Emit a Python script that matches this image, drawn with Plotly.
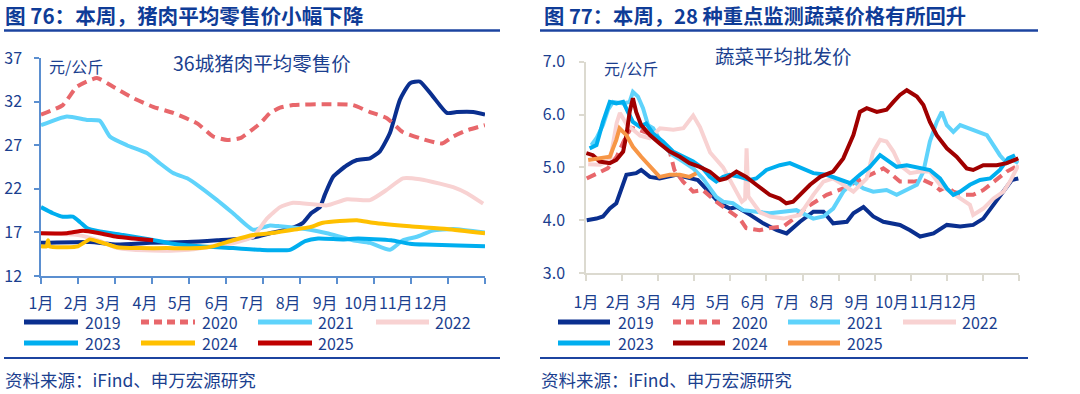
import plotly.graph_objects as go

# ---------------- data (x = month position, 0..12) ----------------
month_labels = ["1月", "2月", "3月", "4月", "5月", "6月", "7月", "8月", "9月", "10月", "11月", "12月"]
left_label_pos = [0.0, 0.95, 1.81, 2.81, 3.76, 4.76, 5.70, 6.68, 7.68, 8.65, 9.59, 10.54]
right_label_pos = [0.0, 0.89, 1.75, 2.72, 3.66, 4.63, 5.57, 6.54, 7.51, 8.48, 9.45, 10.37]
month_bounds = list(range(13))
years = ["2019", "2020", "2021", "2022", "2023", "2024", "2025"]

pork_yticks = [12, 17, 22, 27, 32, 37]
veg_yticks = [3.0, 4.0, 5.0, 6.0, 7.0]

pork_2019_m = [0, 1.32, 2.05, 2.95, 3.95, 4.76, 5.73, 6.19, 6.7, 7.08, 7.30, 7.54, 7.67, 7.9, 8.27, 8.54, 8.89, 9.16, 9.43, 9.70, 9.97, 10.24, 10.59, 10.97, 11.24, 11.68, 12]
pork_2019_v = [15.8, 15.9, 15.6, 15.8, 15.9, 16.1, 16.4, 16.9, 17.4, 18.1, 19.2, 19.9, 21.3, 23.4, 24.7, 25.3, 25.5, 26.3, 28.4, 32.2, 34.1, 34.3, 32.6, 30.7, 30.8, 30.8, 30.5]
pork_2020_m = [0, 0.59, 0.97, 1.51, 1.95, 2.49, 3.03, 3.57, 4.22, 4.65, 5.03, 5.38, 5.92, 6.19, 6.46, 6.81, 7.73, 8.43, 8.89, 9.35, 9.78, 10.24, 10.84, 11.14, 11.51, 12]
pork_2020_v = [30.5, 31.6, 33.7, 34.7, 33.7, 32.4, 31.4, 30.7, 29.5, 28.0, 27.6, 27.8, 29.5, 30.7, 31.3, 31.6, 31.7, 31.6, 30.8, 30.1, 28.5, 27.8, 27.2, 28.0, 28.7, 29.3]
pork_2021_m = [0, 0.70, 1.24, 1.59, 1.86, 2.32, 2.86, 3.22, 3.57, 3.95, 4.30, 4.76, 5.19, 5.73, 6.19, 6.46, 7.27, 7.73, 8.43, 8.89, 9.43, 9.78, 10.16, 10.59, 11.14, 12]
pork_2021_v = [29.3, 30.3, 29.9, 29.8, 28.0, 27.0, 26.1, 24.9, 23.8, 23.2, 22.2, 20.7, 19.2, 17.3, 17.8, 17.7, 17.3, 16.9, 16.1, 15.8, 15.0, 16.1, 16.5, 17.2, 17.4, 17.0]
pork_2022_m = [0, 1.0, 1.6, 2.0, 2.5, 3.5, 4.0, 4.5, 5.0, 5.4, 5.73, 6.11, 6.46, 6.81, 7.73, 8.27, 8.89, 9.35, 9.78, 10.24, 10.78, 11.14, 11.51, 11.95]
pork_2022_v = [16.9, 16.7, 16.0, 15.3, 15.0, 14.9, 15.0, 15.3, 15.6, 16.0, 16.5, 18.6, 19.9, 20.4, 20.1, 20.8, 20.7, 21.9, 23.2, 23.1, 22.6, 22.2, 21.5, 20.3]
pork_2023_m = [0, 0.32, 0.59, 0.86, 1.05, 1.24, 1.59, 2.22, 2.95, 3.57, 4.30, 5.19, 5.92, 6.73, 7.14, 7.49, 8.16, 8.57, 9.46, 9.97, 10.38, 11.27, 12]
pork_2023_v = [19.9, 19.2, 18.8, 18.8, 18.2, 17.5, 17.1, 16.7, 16.2, 15.7, 15.4, 15.2, 15.0, 15.0, 16.0, 16.3, 16.2, 16.3, 16.1, 15.7, 15.6, 15.5, 15.4]
pork_2024_m = [0, 0.15, 0.19, 0.23, 0.70, 1.0, 1.32, 1.59, 2.05, 2.68, 3.41, 4.30, 4.65, 5.19, 5.73, 6.19, 6.81, 7.27, 7.62, 8.54, 8.97, 9.97, 10.97, 12]
pork_2024_v = [15.4, 15.4, 16.1, 15.4, 15.3, 15.4, 16.2, 15.9, 15.3, 15.2, 15.2, 15.2, 15.4, 16.1, 16.7, 16.9, 17.3, 17.6, 18.1, 18.4, 18.1, 17.7, 17.4, 16.9]
pork_2025_m = [0, 0.70, 1.14, 1.59, 2.05, 2.49, 3.03]
pork_2025_v = [16.9, 16.9, 17.2, 16.9, 16.5, 16.3, 16.1]

veg_2019_m = [0.02, 0.29, 0.47, 0.66, 0.84, 0.93, 1.07, 1.12, 1.39, 1.53, 1.77, 2.04, 2.50, 2.97, 3.10, 3.44, 3.71, 3.99, 4.18, 4.55, 4.91, 5.29, 5.56, 5.93, 6.30, 6.58, 6.85, 7.23, 7.41, 7.69, 7.96, 8.24, 8.70, 8.98, 9.26, 9.63, 10.0, 10.37, 10.73, 11.01, 11.29, 11.57, 11.80, 11.98]
veg_2019_v = [4.00, 4.03, 4.07, 4.22, 4.32, 4.48, 4.73, 4.86, 4.89, 4.95, 4.82, 4.79, 4.86, 4.79, 4.76, 4.51, 4.32, 4.22, 4.25, 4.10, 3.94, 3.81, 3.75, 3.97, 4.16, 4.16, 3.94, 3.97, 4.13, 4.25, 4.07, 3.97, 3.91, 3.81, 3.69, 3.75, 3.91, 3.88, 3.91, 4.03, 4.29, 4.54, 4.76, 4.79]
veg_2020_m = [0.02, 0.38, 0.60, 0.85, 1.05, 1.25, 1.5, 1.9, 2.32, 2.45, 2.69, 2.97, 3.24, 3.61, 3.98, 4.26, 4.44, 4.81, 5.09, 5.47, 5.80, 6.12, 6.67, 7.13, 7.50, 7.87, 8.24, 8.43, 8.70, 9.07, 9.35, 9.63, 9.81, 10.0, 10.18, 10.46, 10.73, 11.01, 11.29, 11.66, 11.98]
veg_2020_v = [4.79, 4.92, 4.98, 5.2, 5.5, 5.75, 5.7, 5.6, 5.3, 4.95, 4.73, 4.54, 4.57, 4.35, 4.16, 4.03, 3.85, 3.81, 3.85, 3.88, 4.05, 4.25, 4.48, 4.60, 4.73, 4.86, 4.98, 4.89, 4.73, 4.73, 4.76, 4.67, 4.57, 4.63, 4.54, 4.48, 4.48, 4.57, 4.73, 4.92, 5.04]
veg_2021_m = [0.15, 0.29, 0.47, 0.61, 0.75, 1.03, 1.21, 1.30, 1.44, 1.58, 1.72, 1.86, 2.13, 2.41, 2.69, 2.97, 3.24, 3.43, 3.61, 3.80, 4.07, 4.35, 4.72, 5.09, 5.46, 5.83, 6.30, 6.58, 6.85, 7.13, 7.41, 7.69, 7.96, 8.33, 8.61, 8.89, 9.17, 9.35, 9.53, 9.72, 9.86, 10.0, 10.18, 10.37, 10.73, 11.11, 11.29, 11.47, 11.66, 11.84, 11.98]
veg_2021_v = [5.42, 5.55, 5.80, 6.09, 6.24, 6.21, 6.24, 6.43, 6.34, 6.12, 5.80, 5.74, 5.42, 5.23, 5.11, 4.98, 4.79, 4.60, 4.44, 4.35, 4.32, 4.19, 4.16, 4.13, 4.16, 4.19, 4.03, 4.07, 4.22, 4.54, 4.73, 4.60, 4.54, 4.57, 4.48, 4.57, 4.67, 4.92, 5.49, 5.86, 6.05, 5.80, 5.67, 5.80, 5.71, 5.61, 5.42, 5.23, 5.08, 5.14, 5.08]
veg_2022_m = [0.06, 0.39, 0.67, 0.85, 0.94, 1.12, 1.5, 1.77, 2.05, 2.42, 2.70, 2.97, 3.16, 3.44, 3.80, 4.08, 4.32, 4.41, 4.45, 4.50, 4.82, 5.10, 5.47, 5.93, 6.30, 6.58, 6.85, 7.13, 7.41, 7.78, 7.96, 8.15, 8.33, 8.52, 8.70, 8.98, 9.26, 9.53, 9.81, 10.09, 10.37, 10.64, 10.73, 11.01, 11.29, 11.57, 11.75, 11.98]
veg_2022_v = [5.06, 5.05, 5.14, 5.84, 6.03, 5.82, 5.6, 5.55, 5.74, 5.71, 5.74, 5.98, 5.76, 5.28, 5.0, 4.65, 4.35, 4.4, 5.36, 4.45, 4.15, 4.07, 4.03, 4.10, 4.48, 4.73, 4.79, 4.67, 4.54, 4.79, 5.30, 5.52, 5.49, 5.30, 5.04, 4.89, 4.92, 4.92, 4.67, 4.54, 4.41, 4.29, 4.10, 4.22, 4.41, 4.54, 4.73, 5.04]
veg_2023_m = [0.10, 0.29, 0.47, 0.66, 0.84, 1.03, 1.16, 1.30, 1.49, 1.67, 1.86, 2.13, 2.41, 2.69, 2.97, 3.24, 3.43, 3.61, 3.80, 3.98, 4.26, 4.54, 4.72, 5.00, 5.37, 5.65, 5.93, 6.30, 6.67, 6.95, 7.32, 7.59, 7.87, 8.15, 8.33, 8.61, 8.89, 9.26, 9.53, 9.81, 10.0, 10.18, 10.37, 10.64, 10.92, 11.20, 11.47, 11.70, 11.89]
veg_2023_v = [5.36, 5.42, 5.86, 6.24, 6.21, 6.24, 6.05, 5.86, 5.77, 5.83, 5.64, 5.49, 5.30, 5.20, 5.11, 4.98, 4.82, 4.73, 4.82, 4.86, 4.82, 4.76, 4.79, 4.95, 5.04, 5.08, 5.0, 4.89, 4.86, 4.79, 4.70, 4.86, 5.01, 5.23, 5.14, 5.01, 5.04, 4.98, 4.95, 4.79, 4.60, 4.48, 4.54, 4.67, 4.76, 4.79, 4.95, 5.17, 5.23]
veg_2024_m = [0.01, 0.19, 0.38, 0.66, 0.84, 1.03, 1.12, 1.21, 1.30, 1.39, 1.53, 1.77, 2.04, 2.32, 2.60, 2.87, 3.15, 3.43, 3.71, 3.89, 4.17, 4.44, 4.72, 5.09, 5.37, 5.55, 5.74, 5.93, 6.21, 6.49, 6.85, 7.13, 7.41, 7.59, 7.78, 8.06, 8.33, 8.52, 8.70, 8.89, 9.17, 9.35, 9.53, 9.72, 10.0, 10.27, 10.55, 10.73, 11.01, 11.38, 11.66, 11.98]
veg_2024_v = [5.27, 5.23, 5.11, 5.08, 5.14, 5.30, 5.61, 6.05, 6.31, 6.05, 5.80, 5.61, 5.45, 5.30, 5.20, 5.08, 5.01, 4.92, 4.76, 4.79, 4.92, 4.82, 4.67, 4.48, 4.41, 4.32, 4.35, 4.48, 4.67, 4.82, 4.92, 5.17, 5.61, 6.05, 6.12, 6.05, 6.09, 6.24, 6.37, 6.46, 6.34, 6.18, 5.86, 5.61, 5.36, 5.20, 4.98, 4.95, 5.04, 5.04, 5.08, 5.17]
veg_2025_m = [0.06, 0.38, 0.66, 0.84, 0.93, 1.12, 1.30, 1.53, 1.77, 2.04, 2.32, 2.60, 2.87, 3.06]
veg_2025_v = [5.14, 5.17, 5.20, 5.52, 5.74, 5.61, 5.39, 5.20, 5.01, 4.82, 4.86, 4.86, 4.82, 4.89]

pork_series = [(pork_2019_m, pork_2019_v), (pork_2020_m, pork_2020_v), (pork_2021_m, pork_2021_v),
               (pork_2022_m, pork_2022_v), (pork_2023_m, pork_2023_v), (pork_2024_m, pork_2024_v),
               (pork_2025_m, pork_2025_v)]
veg_series = [(veg_2019_m, veg_2019_v), (veg_2020_m, veg_2020_v), (veg_2021_m, veg_2021_v),
              (veg_2022_m, veg_2022_v), (veg_2023_m, veg_2023_v), (veg_2024_m, veg_2024_v),
              (veg_2025_m, veg_2025_v)]

# ---------------- styles ----------------
W, H = 1080, 394
FONT = "Noto Sans CJK SC, Noto Sans, sans-serif"
TEXT = "#1b3f8f"
TITLE = "#0f3c97"
RULE = "#1c44a0"
LEFT_AXIS = "#5b8fd0"
RIGHT_AXIS = "#dcdad0"

pork_colors = ["#0a2f8f", "#e8676b", "#5fd3fb", "#f8d2d2", "#00aeef", "#ffc000", "#c00000"]
veg_colors = ["#0a2f8f", "#e8676b", "#5fd3fb", "#f8d2d2", "#00aeef", "#a00000", "#f79646"]
dashes = ["solid", "10px,6px", "solid", "solid", "solid", "solid", "solid"]


def px(x):
    return x / W


def py(y):
    return 1 - y / H


fig = go.Figure()
for (m, v), c, d, name in zip(pork_series, pork_colors, dashes, years):
    fig.add_trace(go.Scatter(x=m, y=v, mode="lines", name=name, xaxis="x", yaxis="y",
                             line=dict(color=c, width=4, dash=d, shape="spline", smoothing=0.5),
                             showlegend=False, hoverinfo="skip"))
for (m, v), c, d, name in zip(veg_series, veg_colors, dashes, years):
    fig.add_trace(go.Scatter(x=m, y=v, mode="lines", name=name, xaxis="x2", yaxis="y2",
                             line=dict(color=c, width=4, dash=d), showlegend=False, hoverinfo="skip"))


def xaxis(domain, anchor, label_pos, color, standoff_len):
    return dict(domain=domain, anchor=anchor, range=[0, 12], showgrid=False, zeroline=False,
                showline=True, linecolor=color, linewidth=1.5, automargin=False,
                tickmode="array", tickvals=label_pos, ticktext=month_labels, tickangle=0,
                ticks="outside", ticklen=standoff_len, tickcolor="rgba(0,0,0,0)",
                tickfont=dict(family=FONT, size=16, color=TEXT),
                minor=dict(tickvals=month_bounds, ticks="outside", ticklen=6,
                           tickcolor=color, tickwidth=1.5, showgrid=False))


def yaxis(domain, anchor, rng, tickvals, color, fmt, standoff):
    return dict(domain=domain, anchor=anchor, range=rng, showgrid=False, zeroline=False,
                showline=True, linecolor=color, linewidth=1.5, automargin=False,
                tickmode="array", tickvals=tickvals, tickformat=fmt,
                ticks="outside", ticklen=5, tickcolor=color, tickwidth=1.5,
                ticklabelstandoff=standoff,
                tickfont=dict(family=FONT, size=16, color=TEXT))


fig.update_layout(
    width=W, height=H, margin=dict(l=0, r=0, t=0, b=0, pad=0, autoexpand=False),
    paper_bgcolor="white", plot_bgcolor="white", showlegend=False,
    font=dict(family=FONT, color=TEXT),
    xaxis=xaxis([px(41), px(485)], "y", left_label_pos, LEFT_AXIS, 12),
    yaxis=yaxis([py(276), py(58)], "x", [12, 37], pork_yticks, LEFT_AXIS, "d", 9),
    xaxis2=xaxis([px(586), px(1019)], "y2", right_label_pos, RIGHT_AXIS, 14),
    yaxis2=yaxis([py(273), py(61.7)], "x2", [3, 7], veg_yticks, RIGHT_AXIS, ".1f", 11),
)

shapes = []
annotations = []


def text(x, y, s, size, color=TEXT, anchor="left", bold=False):
    annotations.append(dict(x=px(x), y=py(y), xref="paper", yref="paper", text=(f"<b>{s}</b>" if bold else s),
                            showarrow=False, xanchor=anchor, yanchor="middle",
                            font=dict(family=FONT, size=size, color=color)))


def hline(x0, x1, y, color, width, dash="solid"):
    shapes.append(dict(type="line", xref="paper", yref="paper", x0=px(x0), x1=px(x1), y0=py(y), y1=py(y),
                       line=dict(color=color, width=width, dash=dash)))


# titles and rules
text(3, 15, "图 76：本周，猪肉平均零售价小幅下降", 20.6, TITLE, bold=True)
text(542, 15, "图 77：本周，28 种重点监测蔬菜价格有所回升", 20.3, TITLE, bold=True)
hline(4, 500, 30.5, RULE, 2.5)
hline(540, 1038, 30.5, RULE, 2.5)
hline(4, 500, 358, RULE, 2)
hline(540, 1028, 358, RULE, 2)
text(3, 379, "资料来源：iFind、申万宏源研究", 17.5)
text(539, 379, "资料来源：iFind、申万宏源研究", 17.5)

# in-chart labels
text(262, 62, "36城猪肉平均零售价", 19.5, anchor="center")
text(76, 66, "元/公斤", 16, anchor="center")
text(783, 56, "蔬菜平均批发价", 19.5, anchor="center")
text(631, 68, "元/公斤", 16, anchor="center")

# manual legends
left_cols = [(24, 78, 83), (141, 195, 200), (258, 312, 316), (376, 429, 433)]
right_cols = [(558, 610, 616), (673, 725, 730), (788, 840, 845), (903, 956, 960)]
rows = [322, 343]
for cols, colors in ((left_cols, pork_colors), (right_cols, veg_colors)):
    for i, name in enumerate(years):
        r, c = divmod(i, 4)
        x0, x1, tx = cols[c]
        y = rows[r]
        hline(x0, x1, y, colors[i], 5, "8px,5px" if dashes[i] != "solid" else "solid")
        text(tx, y, name, 16)

fig.update_layout(shapes=shapes, annotations=annotations)
fig.write_html("out.html", config={"displayModeBar": False},
               post_script="document.documentElement.style.margin='0';document.body.style.margin='0';document.body.style.overflow='hidden';")
